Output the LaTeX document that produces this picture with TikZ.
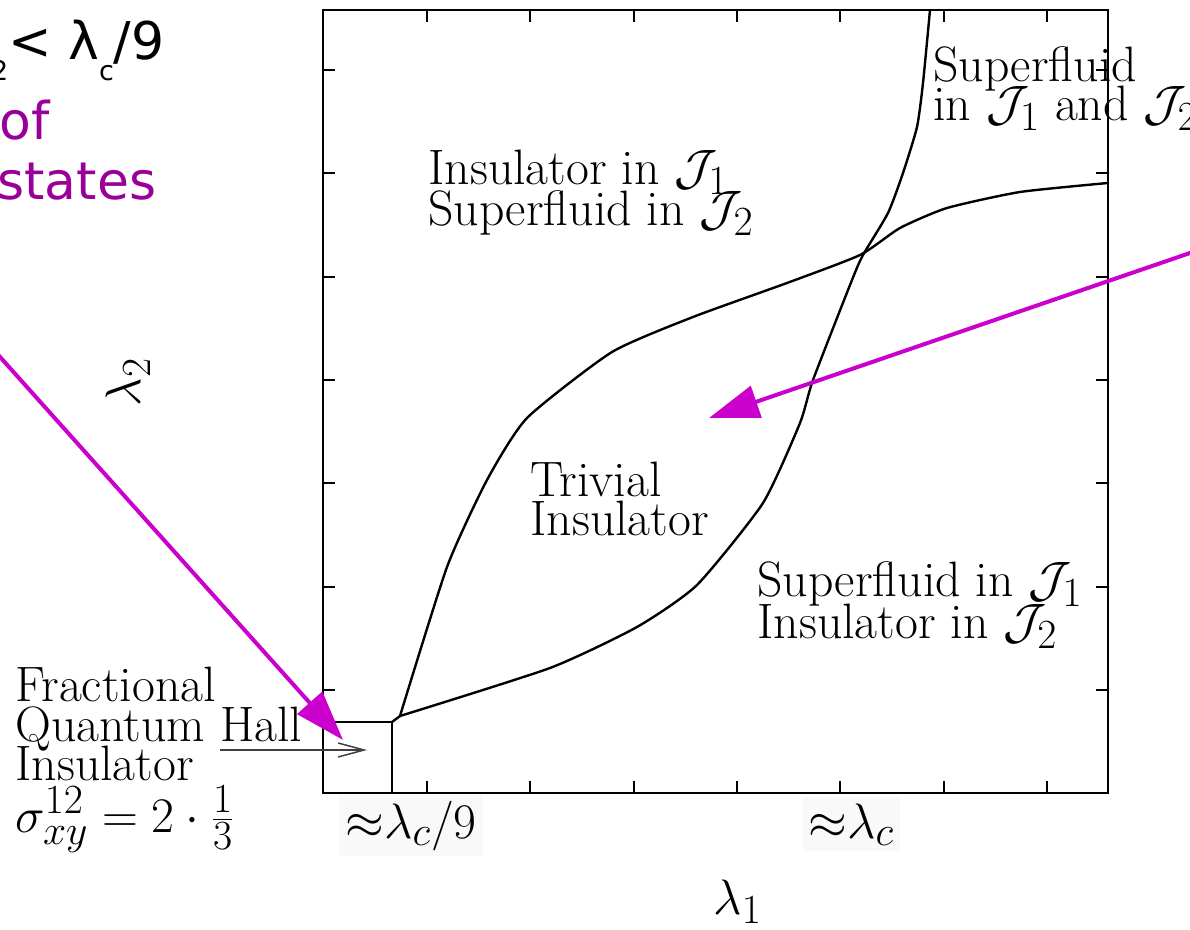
\documentclass[tikz,border=0pt]{standalone}
\usepackage{fontspec}
\newfontfamily\dejavu{DejaVu Sans}
\usetikzlibrary{arrows.meta}
\definecolor{arrowmag}{RGB}{204,0,204}
\definecolor{ofpurple}{RGB}{153,0,153}
\tikzset{
  lab/.style={anchor=base west, inner sep=0pt, font=\fontsize{24.88pt}{22pt}\selectfont},
  axlab/.style={anchor=base west, inner sep=3pt, fill=black!2.5, font=\fontsize{24.88pt}{22pt}\selectfont},
  sanslab/.style={inner sep=0pt, font=\dejavu\fontsize{26pt}{30pt}\selectfont},
  curve/.style={line width=1.2pt, line join=round, line cap=round},
  frameline/.style={line width=1.1pt},
  tickline/.style={line width=1.1pt},
  magarrow/.style={draw=arrowmag, line width=2pt, -{Triangle[length=25pt,width=16.5pt]}},
  smallarrow/.style={line width=0.75pt, draw=black!75, -{Straight Barb[length=13pt,width=7pt]}}
}
\begin{document}
\begin{tikzpicture}[x=0.5pt,y=-0.5pt]
\useasboundingbox (0,0) rectangle (1190,930);
\clip (0,0) rectangle (1190,930);

% region labels (drawn first)
\node[lab] (ins1a) at (428,185) {Insulator in $\mathcal{J}_1$};
\node[lab] (ins1b) at (428,226) {Superfluid in $\mathcal{J}_2$};
\node[lab] (triv1) at (530,497) {Trivial};
\node[lab] (triv2) at (530,536) {Insulator};
\node[lab] (sf1a) at (757,597) {Superfluid in $\mathcal{J}_1$};
\node[lab] (sf1b) at (757,639) {Insulator in $\mathcal{J}_2$};
\node[lab] (sfb1) at (933,82) {Superfluid};
\node[lab] (sfb2) at (933,121) {in $\mathcal{J}_1$ and $\mathcal{J}_2$};
\node[lab] (fqh1) at (15,702) {Fractional};
\node[lab] (fqh2) at (15,741) {Quantum Hall};
\node[lab] (fqh3) at (15,781) {Insulator};
\node[lab] (fqh4) at (15,832) {$\sigma^{12}_{xy} = 2\cdot\frac{1}{3}$};

% axis labels
\node[axlab] (xc9) at (339,838) {${\approx}\lambda_c/9$};
\node[axlab] (xc) at (802,838) {${\approx}\lambda_c$};
\node[lab] (l1) at (713,914) {$\lambda_1$};
\node[inner sep=0pt, rotate=90, font=\fontsize{24.88pt}{22pt}\selectfont] (l2) at (128,382) {$\lambda_2$};

% frame
\draw[frameline] (323,10) rectangle (1108,793);
\foreach \t in {427,530,634,737,840,944,1047} {
  \draw[tickline] (\t,793) -- (\t,781);
  \draw[tickline] (\t,10) -- (\t,22);
}
\foreach \t in {70,173,277,380,483,587,690} {
  \draw[tickline] (323,\t) -- (335,\t);
  \draw[tickline] (1108,\t) -- (1096,\t);
}

% phase boundaries
\coordinate (fl) at (323,722);
\coordinate (fc) at (392,722);
\coordinate (fb) at (392,793);
\coordinate (j) at (400,716);
\draw[curve] (fl) -- (fc) -- (fb);
\draw[curve] (fc) -- (j);
\draw[curve] plot[smooth, tension=0.35] coordinates {(400,716) (447,567) (487,480) (527,418) (612,352) (693,317) (787,283) (860,255) (900,228) (947,208) (1020,192) (1108,183)};
\draw[curve] plot[smooth, tension=0.35] coordinates {(400,716) (550,668) (637,627) (697,585) (763,503) (800,423) (813,380) (852,280) (863,255) (888,213) (903,173) (917,127) (923,83) (930,10)};

% small arrow into the FQH box
\coordinate (sa) at (220,750);
\coordinate (sb) at (367,750);
\draw[smallarrow] (sa) -- (sb);

% top-left sans text (cut off at the left edge)
\node[sanslab, anchor=base east] (cond) at (165,60) {λ\raisebox{-0.4em}{\fontsize{13.5pt}{14pt}\selectfont 2}< λ\raisebox{-0.4em}{\fontsize{13.5pt}{14pt}\selectfont c}/9};
\node[sanslab, anchor=base east, text=ofpurple] (of) at (50,140) {of};
\node[sanslab, anchor=base west, text=ofpurple] (states) at (-3,200) {states};

% magenta arrows
\coordinate (m1s) at (-25,329);
\coordinate (m1t) at (343,740);
\draw[magarrow] (m1s) -- (m1t);
\coordinate (m2s) at (1225,241);
\coordinate (m2t) at (709,418);
\draw[magarrow] (m2s) -- (m2t);
\end{tikzpicture}
\end{document}
